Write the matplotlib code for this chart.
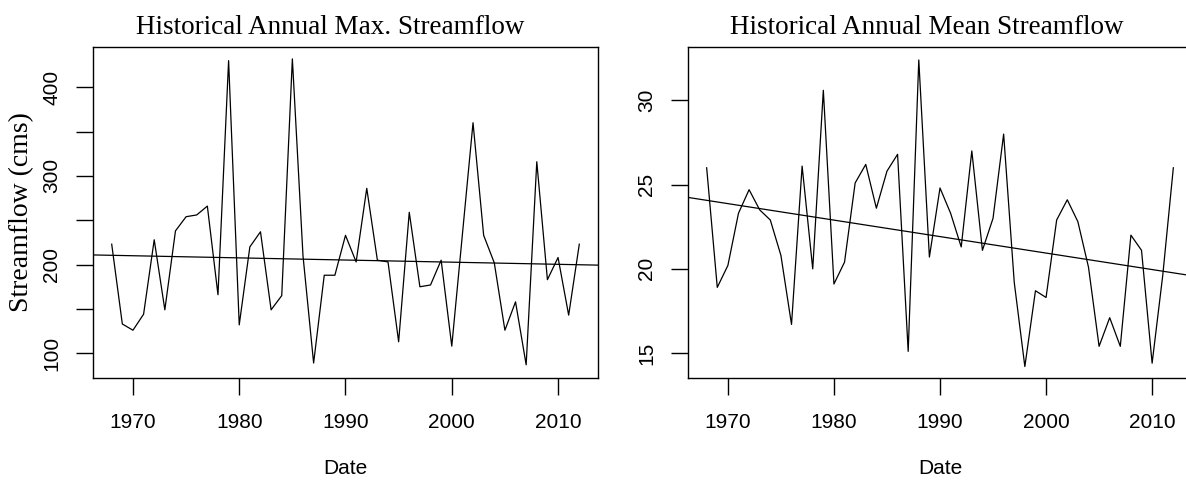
import matplotlib
matplotlib.use("Agg")
import matplotlib.pyplot as plt

# ---- data ----
years = list(range(1968, 2013))

max_flow = [223, 133, 126, 144, 228, 149, 238, 254, 256, 266,
            166, 430, 132, 220, 237, 149, 165, 432, 210, 89,
            188, 188, 233, 203, 286, 205, 203, 113, 259, 175,
            177, 205, 108, 234, 360, 233, 202, 126, 158, 87,
            316, 183, 208, 143, 223]

mean_flow = [26.0, 18.9, 20.2, 23.3, 24.7, 23.5, 22.9, 20.8, 16.7, 26.1,
             20.0, 30.6, 19.1, 20.4, 25.1, 26.2, 23.6, 25.8, 26.8, 15.1,
             32.4, 20.7, 24.8, 23.3, 21.3, 27.0, 21.1, 23.0, 28.0, 19.2,
             14.2, 18.7, 18.3, 22.9, 24.1, 22.8, 20.1, 15.4, 17.1, 15.4,
             22.0, 21.1, 14.4, 19.6, 26.0]

# trend lines (lm fit) read at the two plot edges
trend_years = [1966.24, 2013.76]
trend_max = [210.9, 199.4]
trend_mean = [24.24, 19.59]

max_ticks = [100, 150, 200, 250, 300, 350, 400]
max_ticklabels = ["100", "", "200", "", "300", "", "400"]
mean_ticks = [15, 20, 25, 30]
year_ticks = [1970, 1980, 1990, 2000, 2010]

serif = ["Liberation Serif", "DejaVu Serif"]
sans = ["Liberation Sans", "DejaVu Sans"]

fig = plt.figure(figsize=(11.86, 4.82), dpi=100)
ax1 = fig.add_axes([93 / 1186, 104 / 482, 505 / 1186, 331 / 482])
ax2 = fig.add_axes([688 / 1186, 104 / 482, 504 / 1186, 331 / 482])


def style(ax):
    for s in ax.spines.values():
        s.set_linewidth(1.0)
        s.set_color("black")
    ax.tick_params(direction="out", length=12, width=1.0, colors="black")
    ax.tick_params(axis="x", pad=13)
    ax.tick_params(axis="y", pad=11)
    ax.set_xlim(trend_years[0], trend_years[1])
    ax.set_xticks(year_ticks)
    ax.set_xticklabels([str(y) for y in year_ticks], family=sans, fontsize=15)
    ax.set_xlabel("Date", family=sans, fontsize=15, labelpad=20)


# left: annual max
ax1.plot(years, max_flow, color="black", lw=0.9)
ax1.plot(trend_years, trend_max, color="black", lw=0.9)
style(ax1)
ax1.set_ylim(72.1, 445.4)
ax1.set_yticks(max_ticks)
ax1.set_yticklabels(max_ticklabels, family=sans, fontsize=15,
                    rotation=90, va="center")
ax1.set_ylabel("Streamflow (cms)", family=serif, fontsize=20, labelpad=6)
ax1.set_title("Historical Annual Max. Streamflow", family=serif,
              fontsize=19.5, x=0.469, pad=9)

# right: annual mean
ax2.plot(years, mean_flow, color="black", lw=0.9)
ax2.plot(trend_years, trend_mean, color="black", lw=0.9)
style(ax2)
ax2.set_ylim(13.52, 33.17)
ax2.set_yticks(mean_ticks)
ax2.set_yticklabels([str(t) for t in mean_ticks], family=sans, fontsize=15,
                    rotation=90, va="center")
ax2.set_title("Historical Annual Mean Streamflow", family=serif,
              fontsize=19.5, x=0.474, pad=9)

fig.savefig("out.png", dpi=100)
